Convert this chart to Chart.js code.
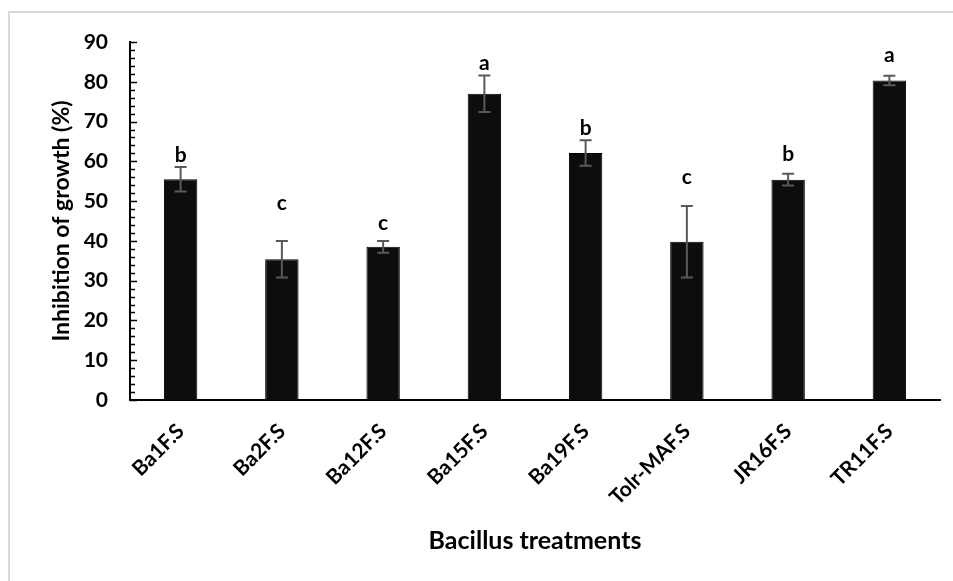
<!DOCTYPE html>
<html>
<head>
<meta charset="utf-8">
<script src="https://cdn.jsdelivr.net/npm/chart.js@4.4.0/dist/chart.umd.min.js"></script>
<style>
    html, body { margin: 0; padding: 0; background: #fff; }
    #wrap { position: relative; width: 953px; height: 581px; }
</style>
</head>
<body>
<div id="wrap"><canvas id="inhibitionChart"></canvas></div>
<script>
// Chart data
const treatments = ['Ba1F.S', 'Ba2F.S', 'Ba12F.S', 'Ba15F.S', 'Ba19F.S', 'Tolr-MAF.S', 'JR16F.S', 'TR11F.S'];
const inhibition = [55.5, 35.4, 38.5, 77.0, 62.1, 39.8, 55.4, 80.3];
const errors = [3.1, 4.6, 1.5, 4.6, 3.2, 9.0, 1.5, 1.2];
const groupLetters = ['b', 'c', 'c', 'a', 'b', 'c', 'b', 'a'];
const letterLevels = [61.6, 49.5, 44.5, 84.7, 68.3, 56.0, 61.8, 86.7];
const yTicks = [0, 10, 20, 30, 40, 50, 60, 70, 80, 90];

const FONT = 'Lato, "Open Sans", sans-serif';

// Light grey chart-area frame (only left and top edges fall inside the picture)
const framePlugin = {
    id: 'frame',
    beforeDraw(chart) {
        const ctx = chart.ctx;
        ctx.save();
        ctx.strokeStyle = '#d9d9d9';
        ctx.lineWidth = 2;
        ctx.strokeRect(9, 12, chart.width + 20, chart.height + 20);
        ctx.restore();
    }
};

// Inner tick marks on the y axis, every 2 units
const minorTicksPlugin = {
    id: 'minorTicks',
    afterDraw(chart) {
        const ctx = chart.ctx;
        const y = chart.scales.y;
        const x0 = chart.chartArea.left;
        ctx.save();
        ctx.strokeStyle = '#000';
        ctx.lineWidth = 1.5;
        for (let v = y.min; v <= y.max; v += 2) {
            const py = Math.round(y.getPixelForValue(v)) + 0.5;
            const len = yTicks.includes(v) ? 7 : 5;
            ctx.beginPath();
            ctx.moveTo(x0, py);
            ctx.lineTo(x0 + len, py);
            ctx.stroke();
        }
        ctx.restore();
    }
};

// Error bars and significance letters
const errorBarPlugin = {
    id: 'errorBars',
    afterDatasetsDraw(chart) {
        const ctx = chart.ctx;
        const meta = chart.getDatasetMeta(0);
        const y = chart.scales.y;
        ctx.save();
        ctx.strokeStyle = '#595959';
        ctx.lineWidth = 2;
        meta.data.forEach((bar, i) => {
            const top = y.getPixelForValue(inhibition[i] + errors[i]);
            const bottom = y.getPixelForValue(inhibition[i] - errors[i]);
            const x = bar.x;
            ctx.beginPath();
            ctx.moveTo(x, top);
            ctx.lineTo(x, bottom);
            ctx.moveTo(x - 6, top);
            ctx.lineTo(x + 6, top);
            ctx.moveTo(x - 6, bottom);
            ctx.lineTo(x + 6, bottom);
            ctx.stroke();
        });
        ctx.fillStyle = '#000';
        ctx.font = 'bold 21px ' + FONT;
        ctx.textAlign = 'center';
        ctx.textBaseline = 'middle';
        meta.data.forEach((bar, i) => {
            ctx.fillText(groupLetters[i], bar.x, y.getPixelForValue(letterLevels[i]));
        });
        ctx.restore();
    }
};

const ctx = document.getElementById('inhibitionChart').getContext('2d');
new Chart(ctx, {
    type: 'bar',
    data: {
        labels: treatments,
        datasets: [{
            label: 'Inhibition of growth (%)',
            data: inhibition,
            backgroundColor: '#0d0d0d',
            borderColor: '#000',
            borderWidth: 1,
            barPercentage: 0.33,
            categoryPercentage: 1
        }]
    },
    options: {
        responsive: true,
        maintainAspectRatio: false,
        animation: false,
        layout: { padding: { top: 42, right: 13, left: 0, bottom: 0 } },
        plugins: {
            legend: { display: false },
            tooltip: { enabled: false }
        },
        scales: {
            x: {
                grid: { display: false, drawTicks: false },
                border: { display: true, color: '#000', width: 2 },
                ticks: {
                    color: '#000',
                    font: { family: FONT, size: 21, weight: 'bold' },
                    minRotation: 45,
                    maxRotation: 45,
                    padding: 19
                },
                title: {
                    display: true,
                    text: 'Bacillus treatments',
                    color: '#000',
                    font: { family: FONT, size: 25, weight: 'bold' },
                    padding: { top: 0, bottom: 25 }
                },
                afterFit(scale) { scale.height = 181; }
            },
            y: {
                min: 0,
                max: 90,
                grid: { display: false, drawTicks: false },
                border: { display: true, color: '#000', width: 2 },
                ticks: {
                    stepSize: 10,
                    color: '#000',
                    font: { family: FONT, size: 21, weight: 'bold' },
                    padding: 22
                },
                title: {
                    display: true,
                    text: 'Inhibition of growth (%)',
                    color: '#000',
                    font: { family: FONT, size: 23, weight: 'bold' },
                    padding: { top: 48, bottom: 0 }
                },
                afterFit(scale) { scale.width = 130; }
            }
        }
    },
    plugins: [framePlugin, minorTicksPlugin, errorBarPlugin]
});
</script>
</body>
</html>
